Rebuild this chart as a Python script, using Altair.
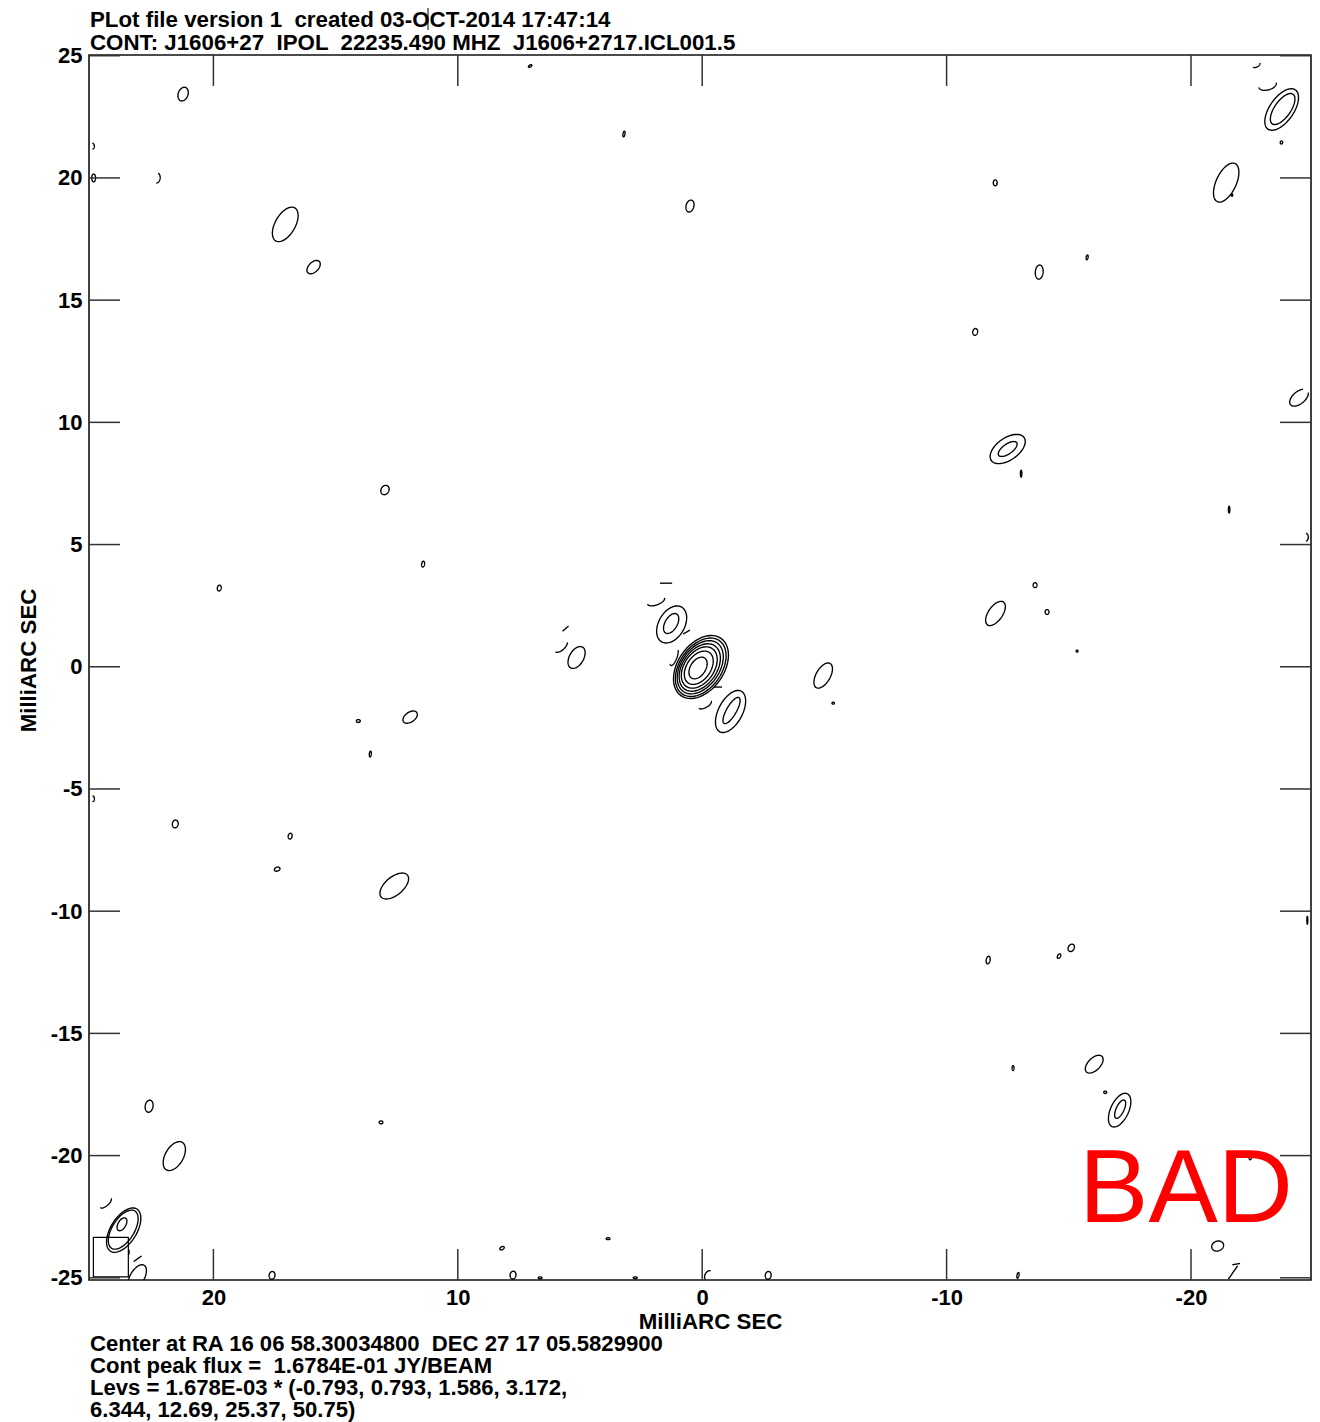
import math
import altair as alt
import pandas as pd

# ---------------- text content ----------------
title_lines = [
    "PLot file version 1 \u00a0created 03-OCT-2014 17:47:14",
    "CONT: J1606+27 \u00a0IPOL \u00a022235.490 MHZ \u00a0J1606+2717.ICL001.5",
]
footer_lines = [
    "Center at RA 16 06 58.30034800 \u00a0DEC 27 17 05.5829900",
    "Cont peak flux = \u00a01.6784E-01 JY/BEAM",
    "Levs = 1.678E-03 * (-0.793, 0.793, 1.586, 3.172,",
    "6.344, 12.69, 25.37, 50.75)",
]
axis_title = "MilliARC SEC"
stamp = "BAD"

x_ticks = [20, 10, 0, -10, -20]
y_ticks = [25, 20, 15, 10, 5, 0, -5, -10, -15, -20, -25]

# ---------------- contour data (milliarcsec) ----------------
# centre RA offset, centre Dec offset, semi-major, semi-minor, tilt (deg), arc start, arc end (deg)
cont_x = [0.05, 0.06, 0.08, 0.10, 0.12, 0.14, 0.17,
          1.48, 1.89, 1.25, 1.27, 0.64, 1.15, -0.65, -0.12, -1.16, -1.20, -4.95, -5.36,
          5.59, 5.77, 5.14,
          -22.68, -23.13, -23.71, -23.75, -23.70, -21.44, -21.68,
          24.41, 23.67, 23.69, 23.74, 23.10, 23.12, 23.45,
          -16.04, -16.49, -17.08, -17.10, -22.42, -21.09, -21.72, -21.85,
          -24.42, -21.56, -24.70, -12.50, -12.50, -13.05, -13.62, -12.00, -14.11,
          21.24, 7.04, 3.20, 24.95, 24.90, 22.30, 17.06, 15.90, 0.50, -11.99, -13.79,
          -15.75, -11.17, 12.98, 11.42, 19.76, 11.95, 14.07, 13.58, 24.95, 21.56,
          16.86, 17.39, 12.60, -24.76, -11.70, -14.60, -15.10, -12.72, 22.63, 13.14,
          21.60, 3.85, 8.19, 7.74, 6.63, 2.74, -0.24, -2.70, 17.60, -12.92, -15.34]
cont_y = [-0.01, -0.02, -0.02, -0.03, -0.03, -0.04, -0.05,
          3.42, 2.69, 1.73, 1.77, 1.42, 0.40, -0.83, -1.55, -1.83, -1.79, -0.36, -1.49,
          1.56, 0.85, 0.38,
          24.62, 23.80, 22.80, 22.82, 21.45, 19.81, 19.30,
          -21.94, -23.05, -23.03, -22.81, -24.22, -24.98, -23.95,
          -16.26, -17.41, -18.14, -18.10, -20.07, -23.70, -24.78, -24.44,
          11.01, 6.43, 5.30, 8.91, 8.91, 7.90, 3.34, 2.18, 2.24,
          23.43, 24.58, 21.80, 21.30, 20.00, 19.99, 18.10, 16.35, 18.85, 19.80, 16.15,
          16.75, 13.70, 7.23, 4.20, 3.22, -2.06, -2.22, -3.57, -5.40, -6.43,
          -6.93, -8.28, -8.97, -10.37, -12.00, -11.84, -11.50, -16.42, -17.98, -18.64,
          -20.02, -23.40, -23.79, -24.89, -25.00, -25.00, -24.89, -24.90, -24.90, -24.90, 0.64]
cont_a = [1.43, 1.33, 1.21, 1.08, 0.94, 0.76, 0.49,
          0.25, 0.37, 0.82, 0.45, 0.16, 0.37, 0.16, 0.29, 0.94, 0.61, 0.57, 0.05,
          0.16, 0.33, 0.49,
          0.16, 0.37, 0.98, 0.74, 0.06, 0.86, 0.05,
          0.29, 1.02, 0.90, 0.29, 0.20, 0.57, 0.10,
          0.45, 0.06, 0.74, 0.41, 0.10, 0.25, 0.33, 0.16,
          0.45, 0.14, 0.16, 0.82, 0.45, 0.14, 0.10, 0.57, 0.10,
          0.29, 0.08, 0.12, 0.12, 0.16, 0.20, 0.78, 0.33, 0.25, 0.12, 0.29,
          0.10, 0.14, 0.20, 0.12, 0.12, 0.33, 0.08, 0.12, 0.12, 0.16,
          0.12, 0.12, 0.70, 0.16, 0.16, 0.10, 0.16, 0.10, 0.25, 0.08,
          0.65, 0.08, 0.10, 0.16, 0.08, 0.08, 0.20, 0.16, 0.16, 0.12, 0.04]
cont_b = [0.94, 0.86, 0.78, 0.70, 0.61, 0.49, 0.31,
          0.00, 0.16, 0.53, 0.25, 0.00, 0.12, 0.00, 0.12, 0.49, 0.20, 0.29, 0.04,
          0.00, 0.16, 0.29,
          0.08, 0.20, 0.49, 0.33, 0.05, 0.41, 0.03,
          0.12, 0.53, 0.45, 0.16, 0.00, 0.29, 0.00,
          0.25, 0.05, 0.37, 0.16, 0.05, 0.20, 0.00, 0.00,
          0.25, 0.03, 0.10, 0.45, 0.20, 0.03, 0.08, 0.29, 0.08,
          0.20, 0.04, 0.04, 0.08, 0.08, 0.12, 0.41, 0.20, 0.16, 0.08, 0.16,
          0.04, 0.10, 0.16, 0.06, 0.08, 0.20, 0.06, 0.04, 0.08, 0.12,
          0.08, 0.08, 0.37, 0.02, 0.08, 0.06, 0.12, 0.04, 0.16, 0.06,
          0.37, 0.04, 0.06, 0.12, 0.04, 0.04, 0.12, 0.12, 0.12, 0.04, 0.04]
cont_tilt = [55, 55, 55, 55, 55, 55, 57,
             0, 20, 60, 60, 30, 70, 0, 30, 62, 60, 60, 0,
             40, 45, 60,
             30, 15, 55, 55, 90, 65, 90,
             40, 58, 58, 60, 35, 60, 90,
             45, 0, 65, 65, 90, 20, 55, 10,
             40, 90, 90, 35, 35, 90, 90, 55, 90,
             70, 30, 80, 90, 90, 80, 60, 45, 75, 90, 85,
             80, 80, 60, 80, 80, 35, 0, 85, 90, 80,
             80, 20, 40, 90, 80, 60, 60, 90, 80, 0,
             60, 0, 30, 80, 0, 0, 60, 80, 80, 80, 0]
cont_t0 = [0, 0, 0, 0, 0, 0, 0,
           0, 180, 0, 0, 0, 150, 0, 180, 0, 0, 0, 0,
           0, 180, 0,
           180, 180, 0, 0, 0, 0, 0,
           180, 0, 0, 0, 0, 0, 0,
           0, 0, 0, 0, 0, 0, 0, 0,
           40, 0, 180, 0, 0, 0, 0, 0, 0,
           0, 0, 0, 180, 0, 180, 0, 0, 0, 0, 0,
           0, 0, 0, 0, 0, 0, 0, 0, 180, 0,
           0, 0, 0, 0, 0, 0, 0, 0, 0, 0,
           0, 0, 0, 0, 0, 0, 0, 0, 0, 0, 0]
cont_t1 = [360, 360, 360, 360, 360, 360, 360,
           180, 360, 360, 360, 180, 330, 180, 360, 360, 360, 360, 360,
           180, 330, 360,
           360, 360, 360, 360, 360, 360, 360,
           360, 360, 360, 360, 180, 360, 180,
           360, 360, 360, 360, 360, 360, 180, 180,
           340, 360, 360, 360, 360, 360, 360, 360, 360,
           360, 360, 360, 360, 360, 360, 360, 360, 360, 360, 360,
           360, 360, 360, 360, 360, 360, 360, 360, 360, 360,
           360, 360, 360, 360, 360, 360, 360, 360, 360, 360,
           360, 360, 360, 360, 360, 360, 180, 360, 360, 360, 360]

# restoring beam box (corner of the map)
beam_box_x = [24.91, 23.48]
beam_box_y = [-23.35, -24.96]

# ---------------- build outline table ----------------
rows = []
for cid in range(len(cont_x)):
    x0, y0 = cont_x[cid], cont_y[cid]
    a, b = cont_a[cid], cont_b[cid]
    ang = math.radians(cont_tilt[cid])
    t0, t1 = cont_t0[cid], cont_t1[cid]
    n = max(8, int(56 * (t1 - t0) / 360))
    for k in range(n + 1):
        t = math.radians(t0 + (t1 - t0) * k / n)
        u, v = a * math.cos(t), b * math.sin(t)
        dx = u * math.cos(ang) - v * math.sin(ang)   # screen right
        dy = u * math.sin(ang) + v * math.cos(ang)   # screen up
        rows.append({"X": x0 - dx, "Y": y0 + dy, "cid": cid, "k": k})
df_cont = pd.DataFrame(rows)

W, H = 1222, 1225
FONT = "Liberation Sans"
FS = 22.3
TL = 31  # tick length

xs = alt.Scale(domain=[-24.91, 25.09], reverse=True, nice=False, zero=False)
ys = alt.Scale(domain=[-25.09, 25.03], nice=False, zero=False)

x_axis = alt.Axis(values=x_ticks, ticks=False, domain=False, grid=False,
                  labelFont=FONT, labelFontSize=22, labelFontWeight="bold",
                  labelColor="black", labelPadding=7, labelExpr="datum.value + ''",
                  title=axis_title, titleFont=FONT, titleFontSize=FS,
                  titleFontWeight="bold", titleColor="black",
                  titleX=621, titleY=48, titleBaseline="alphabetic", titleAlign="center")
y_axis = alt.Axis(values=y_ticks, ticks=False, domain=False, grid=False,
                  labelFont=FONT, labelFontSize=22, labelFontWeight="bold",
                  labelColor="black", labelPadding=7, labelExpr="datum.value + ''",
                  title=axis_title, titleFont=FONT, titleFontSize=FS,
                  titleFontWeight="bold", titleColor="black", titleAngle=270,
                  titleX=-54, titleY=605, titleBaseline="alphabetic", titleAlign="center")

contours = alt.Chart(df_cont).mark_line(color="black", strokeWidth=1.35, clip=True).encode(
    x=alt.X("X:Q", scale=xs, axis=x_axis),
    y=alt.Y("Y:Q", scale=ys, axis=y_axis),
    detail="cid:N",
    order="k:Q",
)

beam_box = alt.Chart(pd.DataFrame({"x1": [beam_box_x[0]], "x2": [beam_box_x[1]],
                                   "y1": [beam_box_y[0]], "y2": [beam_box_y[1]]})).mark_rect(
    fillOpacity=0, stroke="black", strokeWidth=1.2).encode(
    x=alt.X("x1:Q", scale=xs, axis=x_axis), x2="x2:Q",
    y=alt.Y("y1:Q", scale=ys, axis=y_axis), y2="y2:Q")

df_xt = pd.DataFrame({"v": x_ticks})
df_yt = pd.DataFrame({"v": y_ticks})
tick_style = dict(color="#333333", strokeWidth=1.5)
xt_bottom = alt.Chart(df_xt).mark_rule(**tick_style).encode(
    x=alt.X("v:Q", scale=xs, axis=x_axis), y=alt.value(H), y2=alt.value(H - TL))
xt_top = alt.Chart(df_xt).mark_rule(**tick_style).encode(
    x=alt.X("v:Q", scale=xs, axis=x_axis), y=alt.value(0), y2=alt.value(TL))
yt_left = alt.Chart(df_yt).mark_rule(**tick_style).encode(
    y=alt.Y("v:Q", scale=ys, axis=y_axis), x=alt.value(0), x2=alt.value(TL))
yt_right = alt.Chart(df_yt).mark_rule(**tick_style).encode(
    y=alt.Y("v:Q", scale=ys, axis=y_axis), x=alt.value(W - TL), x2=alt.value(W))

layers = [contours, beam_box, xt_bottom, xt_top, yt_left, yt_right]

def text_line(s, x, y, size=FS, weight="bold", color="black", align="left"):
    return alt.Chart(pd.DataFrame({"t": [s]})).mark_text(
        font=FONT, fontSize=size, fontWeight=weight, color=color,
        align=align, baseline="alphabetic").encode(
        text="t:N", x=alt.value(x), y=alt.value(y))

for i, s in enumerate(title_lines):
    layers.append(text_line(s, 1, -28 + 22.5 * i))
for i, s in enumerate(footer_lines):
    layers.append(text_line(s, 1, H + 70.5 + 22.2 * i, size=22.1))
layers.append(text_line(stamp, 1097, 1167, size=104, weight="normal", color="#ff0000",
                        align="center"))
# cursor artefact in the header
layers.append(alt.Chart(pd.DataFrame({"a": [0]})).mark_rule(color="black", strokeWidth=1).encode(
    x=alt.value(339), y=alt.value(-48), y2=alt.value(-25)))

chart = alt.layer(*layers).properties(
    width=W, height=H,
    padding={"left": 81, "top": 47, "right": 1, "bottom": 142},
    autosize=alt.AutoSizeParams(type="none"),
    background="white",
).configure_view(stroke="#111111", strokeWidth=1.6)

chart.save("out.html", embed_options={"renderer": "svg", "actions": False})
